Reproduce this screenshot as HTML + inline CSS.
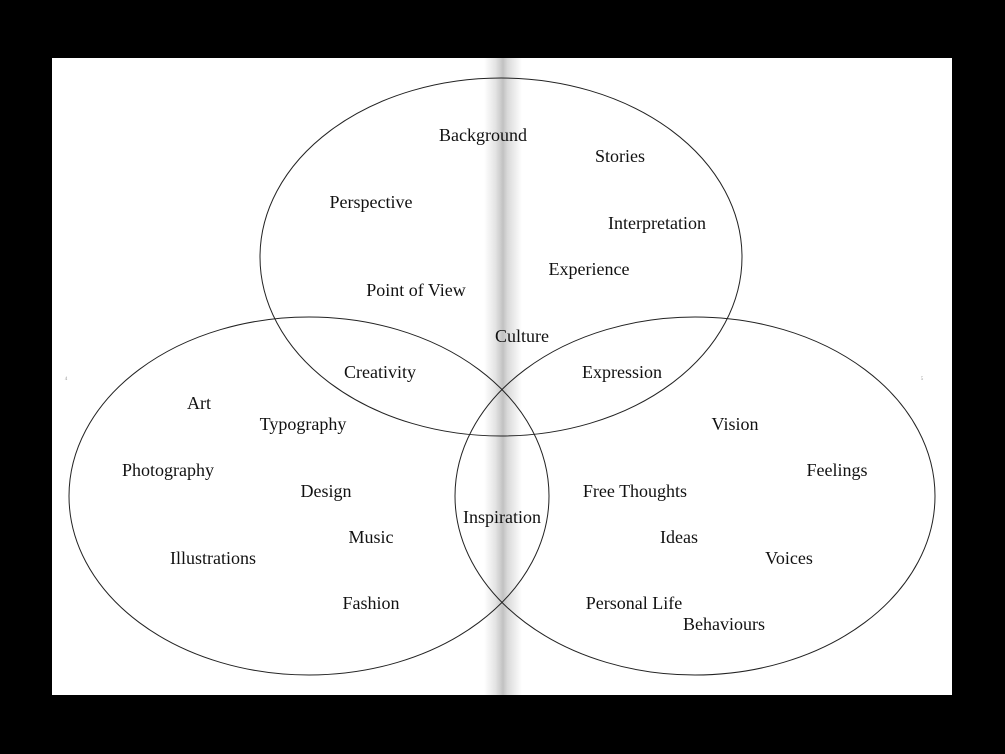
<!DOCTYPE html>
<html><head><meta charset="utf-8"><style>
html,body{margin:0;padding:0;background:#000;}
svg{display:block}
text{font-family:"Liberation Serif",serif;font-size:18px;fill:#111;text-anchor:middle}
</style></head><body>
<svg width="1005" height="754" viewBox="0 0 1005 754" xmlns="http://www.w3.org/2000/svg">
<defs>
<linearGradient id="g" x1="0" x2="1" y1="0" y2="0">
<stop offset="0" stop-color="#fff"/>
<stop offset="0.3" stop-color="#e4e4e4"/>
<stop offset="0.5" stop-color="#c2c2c2"/>
<stop offset="0.62" stop-color="#dadada"/>
<stop offset="1" stop-color="#fff"/>
</linearGradient>
</defs>
<rect x="0" y="0" width="1005" height="754" fill="#000"/>
<rect x="52" y="58" width="900" height="637" fill="#fff"/>
<rect x="484" y="58" width="38" height="637" fill="url(#g)"/>
<g fill="none" stroke="#222" stroke-width="1">
<ellipse cx="501" cy="257" rx="241" ry="179"/>
<ellipse cx="309" cy="496" rx="240" ry="179"/>
<ellipse cx="695" cy="496" rx="240" ry="179"/>
</g>
<text x="66" y="380" style="font-size:5px;fill:#999">4</text>
<text x="922" y="380" style="font-size:5px;fill:#999">5</text>
<text x="483" y="141">Background</text>
<text x="620" y="162">Stories</text>
<text x="371" y="208">Perspective</text>
<text x="657" y="229">Interpretation</text>
<text x="589" y="275">Experience</text>
<text x="416" y="296">Point of View</text>
<text x="522" y="342">Culture</text>
<text x="380" y="378">Creativity</text>
<text x="622" y="378">Expression</text>
<text x="199" y="409">Art</text>
<text x="303" y="430">Typography</text>
<text x="735" y="430">Vision</text>
<text x="168" y="476">Photography</text>
<text x="837" y="476">Feelings</text>
<text x="326" y="497">Design</text>
<text x="635" y="497">Free Thoughts</text>
<text x="502" y="523">Inspiration</text>
<text x="371" y="543">Music</text>
<text x="679" y="543">Ideas</text>
<text x="213" y="564">Illustrations</text>
<text x="789" y="564">Voices</text>
<text x="371" y="609">Fashion</text>
<text x="634" y="609">Personal Life</text>
<text x="724" y="630">Behaviours</text>
</svg>
</body></html>
